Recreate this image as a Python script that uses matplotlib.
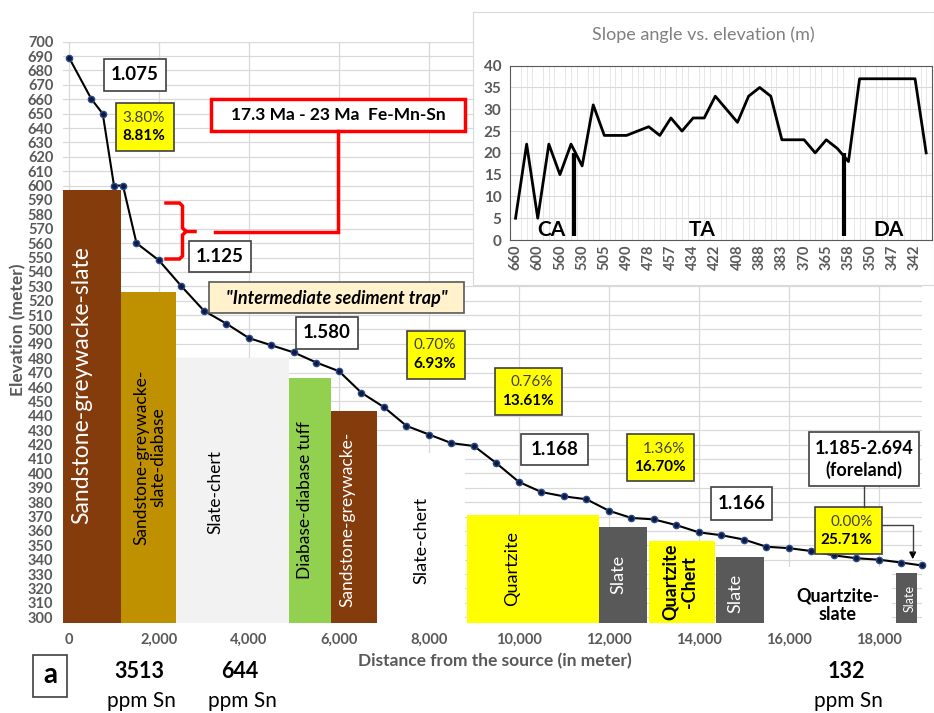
import matplotlib
matplotlib.use("Agg")
import matplotlib.pyplot as plt
from matplotlib.patches import Rectangle
from matplotlib.lines import Line2D

plt.rcParams['font.family'] = ['Lato', 'DejaVu Sans']

# elevation profile along the river
distance = [0, 500, 750, 1000, 1200, 1500, 2000, 2500, 3000, 3500, 4000, 4500, 5000,
            5500, 6000, 6500, 7000, 7500, 8000, 8500, 9000, 9500, 10000, 10500, 11000,
            11500, 12000, 12500, 13000, 13500, 14000, 14500, 15000, 15500, 16000, 16500,
            17000, 17500, 18000, 18500, 18950]
elevation = [689, 660, 650, 600, 600, 560, 548, 530, 513, 504, 494, 489, 484, 477, 471,
             456, 446, 433, 427, 421, 419, 407, 394, 387, 384, 382, 374, 369, 368, 364,
             359, 357, 354, 349, 348, 346, 343, 341, 340, 338, 336]

# lithology blocks under the profile
litho_names = ["Sandstone-greywacke-slate", "Sandstone-greywacke-\nslate-diabase",
               "Slate-chert", "Diabase-diabase tuff", "Sandstone-greywacke-",
               "Slate-chert", "Quartzite", "Slate", "Quartzite\n-Chert", "Slate",
               "Quartzite-\nslate", "Slate"]
litho_start = [-133, 1150, 2370, 4900, 5820, 6840, 8850, 11780, 12890, 14380, 15450, 18370]
litho_end = [1150, 2370, 4900, 5820, 6840, 8800, 11780, 12850, 14360, 15440, 18300, 18840]
litho_top = [597, 526, 480, 466, 443, 414, 371, 363, 353, 342, 335, 331]
litho_colors = ['#843C0C', '#BF9000', '#F2F2F2', '#92D050', '#843C0C', 'white',
                '#FFFF00', '#595959', '#FFFF00', '#595959', 'white', '#595959']

# inset: slope angle vs elevation
slope_angle = [5, 22, 5, 22, 15, 22, 17, 31, 24, 24, 24, 25, 26, 24, 28, 25, 28, 28, 33,
               30, 27, 33, 35, 33, 23, 23, 23, 20, 23, 21, 18, 37, 37, 37, 37, 37, 37, 20]
slope_elev_labels = ['660', '600', '560', '530', '505', '490', '478', '457', '434', '422',
                     '408', '388', '383', '370', '365', '358', '350', '347', '342']
zone_names = ['CA', 'TA', 'DA']
zone_bounds = [5.27, 29.6]

W, H = 934, 713
fig = plt.figure(figsize=(W / 100, H / 100), dpi=100)
GREY = '#595959'


def fx(x):
    return x / W


def fy(y):
    return 1 - y / H


def box(x0, y0, x1, y1, fc='white', ec='#404040', lw=1.2):
    fig.add_artist(Rectangle((fx(x0), fy(y1)), (x1 - x0) / W, (y1 - y0) / H,
                             transform=fig.transFigure, fc=fc, ec=ec, lw=lw, zorder=4))


def txt(x, y, s, **kw):
    kw.setdefault('ha', 'center')
    kw.setdefault('va', 'center')
    fig.text(fx(x), fy(y), s, zorder=5, **kw)


def poly(pts, color='red', lw=2.5):
    fig.add_artist(Line2D([fx(p[0]) for p in pts], [fy(p[1]) for p in pts],
                          transform=fig.transFigure, color=color, lw=lw, zorder=4,
                          solid_joinstyle='miter'))


# ---- main profile ----
ax = fig.add_axes([fx(63), fy(623), (921.7 - 63) / W, (623 - 41.7) / H])
ax.set_xlim(-133, 18950)
ax.set_ylim(296, 700)
ax.set_yticks(range(300, 701, 10))
ax.set_xticks(range(0, 18001, 2000))
ax.set_xticklabels([f'{v:,}' for v in range(0, 18001, 2000)])
ax.grid(color='#D9D9D9', lw=0.9)
ax.set_axisbelow(True)
for s in ax.spines.values():
    s.set_visible(False)
ax.tick_params(length=0, colors=GREY, labelsize=10.5, pad=7)
for lab in ax.get_xticklabels() + ax.get_yticklabels():
    lab.set_fontweight('bold')

widths = [e - s for s, e in zip(litho_start, litho_end)]
heights = [t - 296 for t in litho_top]
ax.bar(litho_start, heights, width=widths, bottom=296, align='edge',
       color=litho_colors, zorder=2)
ax.plot(distance, elevation, color='black', lw=1.5, marker='o', ms=4.5,
        mfc='#0A1A40', mec='#2E4A8B', zorder=3, clip_on=False)

# lithology labels (pixel positions)
lab_pos = [(82, 385), (150, 457), (215, 492), (305, 500), (347, 519), (421, 540),
           (512, 568), (618, 574), (680, 582), (735, 593), (838, 605), (910, 598)]
lab_color = ['white', 'black', 'black', 'black', 'white', 'black',
             'black', 'white', 'black', 'white', 'black', 'white']
lab_size = [16.5, 12.5, 12.5, 12.5, 12.5, 13, 13, 13, 13, 13, 13, 9]
lab_weight = ['normal'] * 8 + ['bold', 'normal', 'bold', 'normal']
for name, (x, y), c, fs, fw in zip(litho_names, lab_pos, lab_color, lab_size, lab_weight):
    rot = 0 if name.startswith('Quartzite-') else 90
    txt(x, y, name, color=c, fontsize=fs, fontweight=fw, rotation=rot,
        linespacing=1.1)

# axis titles
txt(494.5, 661, 'Distance from the source (in meter)', color=GREY, fontsize=12.5,
    fontweight='bold')
txt(18, 330, 'Elevation (meter)', color=GREY, fontsize=12.5, fontweight='bold',
    rotation=90)

# ratio boxes
for (x0, y0, x1, y1), s in [((104.3, 59, 166, 91), '1.075'),
                            ((189.3, 240.7, 250.7, 271.7), '1.125'),
                            ((296, 316.7, 357.7, 349), '1.580'),
                            ((520.7, 434, 588, 465.3), '1.168'),
                            ((711.3, 487.3, 772.3, 520), '1.166')]:
    box(x0, y0, x1, y1)
    txt((x0 + x1) / 2, (y0 + y1) / 2, s, fontsize=13.5, fontweight='bold')

box(809.3, 431.7, 919, 485.5)
txt(864, 448.3, '1.185-2.694', fontsize=13, fontweight='bold')
txt(864, 470, '(foreland)', fontsize=13, fontweight='bold')

# percentage boxes
for (x0, y0, x1, y1), top, bottom in [((115.7, 103, 174, 151), '3.80%', '8.81%'),
                                      ((406.7, 330.7, 465, 379), '0.70%', '6.93%'),
                                      ((495, 367.7, 562.3, 415), '0.76%', '13.61%'),
                                      ((627.3, 434.3, 694.3, 481), '1.36%', '16.70%'),
                                      ((815, 507.3, 881.7, 554), '0.00%', '25.71%')]:
    box(x0, y0, x1, y1, fc='#FFFF00')
    txt(x1 - 9, y0 + 14.5, top, ha='right', fontsize=11, color='#404040')
    txt(x1 - 9, y0 + 33, bottom, ha='right', fontsize=11, fontweight='bold')

# foreland connectors
poly([(864, 485.5), (864, 507.3)], color='#404040', lw=1)
poly([(881.7, 525), (912.7, 525), (912.7, 552)], color='#404040', lw=1)
ax.annotate('', xy=(fx(912.7), fy(562)), xytext=(fx(912.7), fy(550)),
            xycoords='figure fraction', textcoords='figure fraction',
            arrowprops=dict(arrowstyle='-|>', color='black', lw=1, mutation_scale=10))

# age box, red bracket
box(210.7, 99, 465, 130.7, ec='red', lw=2.5)
txt(338, 115, '17.3 Ma - 23 Ma  Fe-Mn-Sn', fontsize=12.5, fontweight='bold')
poly([(337.7, 130.7), (337.7, 231.5), (215, 231.5)])
poly([(166, 203), (179.5, 203), (182.5, 206), (182.5, 228), (186, 231.5), (195, 231.5)])
poly([(186, 231.5), (182.5, 235), (182.5, 256), (179.5, 259), (166, 259)])

box(209.3, 282.3, 464, 313.3, fc='#FFF2CC', ec='#595959')
txt(336.7, 298, '"Intermediate sediment trap"', fontsize=13, fontweight='bold',
    style='italic')

# panel letter and Sn grades
box(33.3, 655, 66.7, 696.7)
txt(50, 675, 'a', fontsize=20, fontweight='bold')
for x, v in [(139, '3513'), (240, '644'), (846, '132')]:
    txt(x, 671.7, v, fontsize=15.5, fontweight='bold')
    txt(x + 2, 701, 'ppm Sn', fontsize=15)

# ---- inset ----
frame = fig.add_axes([fx(473), fy(285), (934 - 473) / W, (285 - 12) / H])
frame.set_xticks([])
frame.set_yticks([])
for s in frame.spines.values():
    s.set_color('#D9D9D9')
frame.text(0.5, 0.915, 'Slope angle vs. elevation (m)', transform=frame.transAxes,
           ha='center', va='center', color='#808080', fontsize=13)

ins = fig.add_axes([fx(510), fy(240), (931.7 - 510) / W, (240 - 65.7) / H])
ins.plot(range(len(slope_angle)), slope_angle, color='black', lw=2)
ins.set_xlim(-0.5, 37.5)
ins.set_ylim(0, 40)
ins.set_yticks(range(0, 41, 5))
ins.set_xticks(range(0, 38, 2))
ins.set_xticklabels(slope_elev_labels, rotation=90, fontweight='bold')
ins.set_xticks([i * 0.5 for i in range(76)], minor=True)
ins.grid(axis='y', color='#D9D9D9', lw=0.8)
ins.grid(axis='x', which='minor', color='#E3E3E3', lw=0.6)
ins.set_axisbelow(True)
ins.tick_params(which='both', length=0, colors=GREY, labelsize=10.5)
ins.tick_params(axis='y', labelsize=11, pad=6)
for lab in ins.get_yticklabels():
    lab.set_fontweight('bold')
for s in ins.spines.values():
    s.set_color(GREY)
ins.vlines(zone_bounds, 1, 20, color='black', lw=3)
for name, x in zip(zone_names, [3.25, 16.8, 33.6]):
    ins.text(x, 2.3, name, ha='center', va='center', fontsize=15, fontweight='bold')

fig.savefig('out.png', dpi=100)
